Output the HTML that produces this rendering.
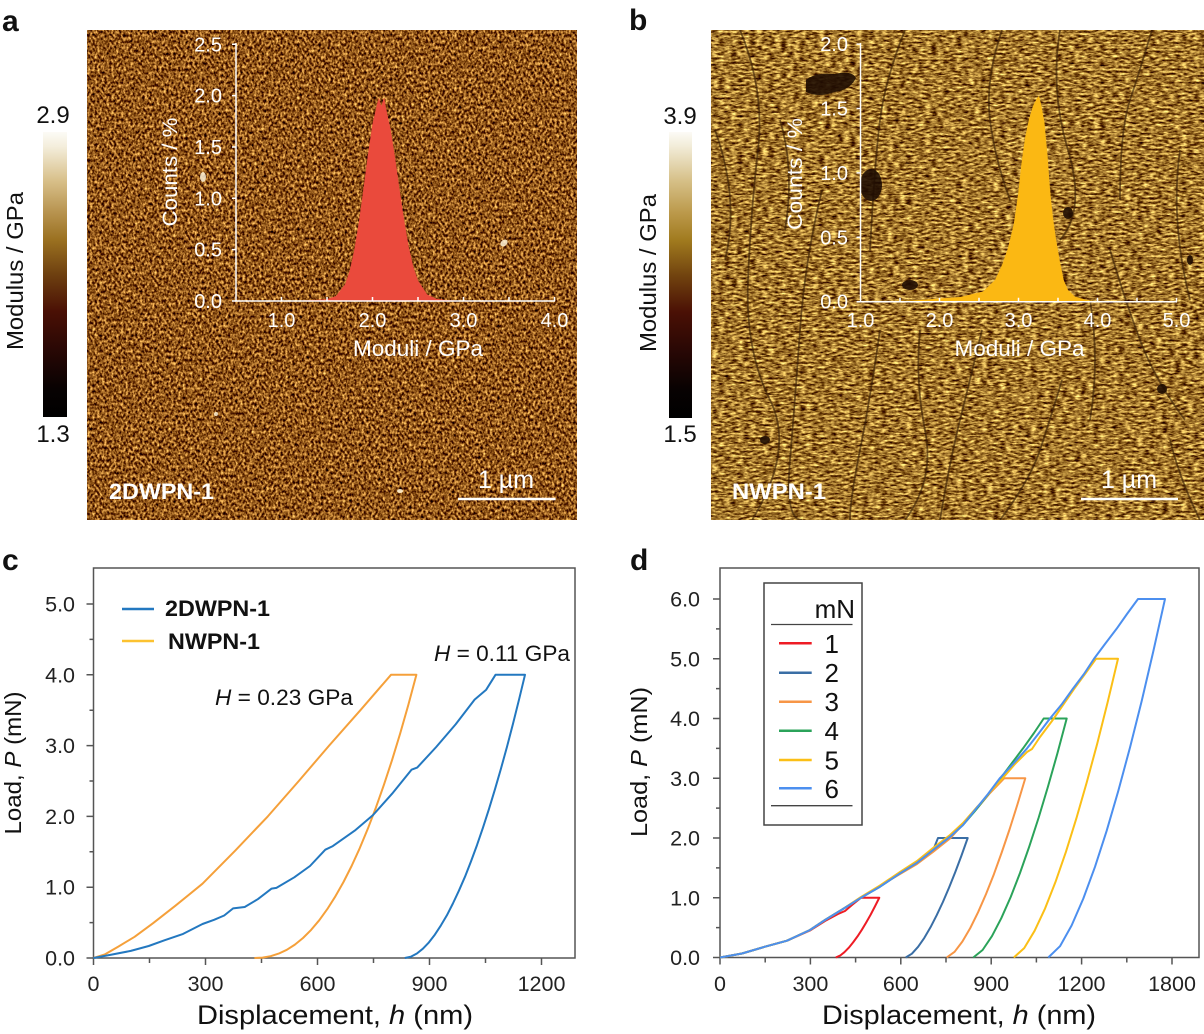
<!DOCTYPE html>
<html>
<head>
<meta charset="utf-8">
<style>
  html,body{margin:0;padding:0;background:#fff;}
  svg{display:block;}
</style>
</head>
<body>
<svg width="1204" height="1034" viewBox="0 0 1204 1034" xmlns="http://www.w3.org/2000/svg" font-family="'Liberation Sans', Arial, sans-serif">
<defs>
  <filter id="fa" x="0" y="0" width="1" height="1" color-interpolation-filters="sRGB">
    <feTurbulence type="fractalNoise" baseFrequency="0.42 0.32" numOctaves="2" seed="7"/>
    <feColorMatrix type="matrix" values="1.7 0 0 0 -0.29  1.55 0 0 0 -0.44  1.0 0 0 0 -0.40  0 0 0 0 1"/>
  </filter>
  <filter id="fb" x="0" y="0" width="1" height="1" color-interpolation-filters="sRGB">
    <feTurbulence type="fractalNoise" baseFrequency="0.16 0.45" numOctaves="3" seed="11"/>
    <feColorMatrix type="matrix" values="1.6 0 0 0 -0.17  1.6 0 0 0 -0.34  1.05 0 0 0 -0.35  0 0 0 0 1"/>
  </filter>
  <linearGradient id="cba" x1="0" y1="0" x2="0" y2="1">
    <stop offset="0" stop-color="#fcfbf6"/>
    <stop offset="0.05" stop-color="#f4eedc"/>
    <stop offset="0.17" stop-color="#d8c08a"/>
    <stop offset="0.28" stop-color="#b89450"/>
    <stop offset="0.38" stop-color="#9a7020"/>
    <stop offset="0.50" stop-color="#6e4010"/>
    <stop offset="0.63" stop-color="#4a1005"/>
    <stop offset="0.76" stop-color="#2a0805"/>
    <stop offset="0.90" stop-color="#080202"/>
    <stop offset="1" stop-color="#000"/>
  </linearGradient>
  <linearGradient id="cbb" x1="0" y1="0" x2="0" y2="1">
    <stop offset="0" stop-color="#fcfbf6"/>
    <stop offset="0.05" stop-color="#f2ecd8"/>
    <stop offset="0.17" stop-color="#d6c088"/>
    <stop offset="0.28" stop-color="#bc9a4c"/>
    <stop offset="0.38" stop-color="#a07a1e"/>
    <stop offset="0.50" stop-color="#72440f"/>
    <stop offset="0.63" stop-color="#4a1005"/>
    <stop offset="0.76" stop-color="#2a0805"/>
    <stop offset="0.90" stop-color="#080202"/>
    <stop offset="1" stop-color="#000"/>
  </linearGradient>
  <clipPath id="clipb"><rect x="711" y="30" width="493" height="490"/></clipPath>
</defs>

<rect width="1204" height="1034" fill="#fff"/>

<!-- ================= Panel a ================= -->
<text x="2" y="31" font-size="30" font-weight="bold" fill="#111">a</text>
<rect x="87" y="30" width="490" height="490" fill="#965c1c"/>
<rect x="87" y="30" width="490" height="490" filter="url(#fa)"/>
<g fill="#fff4d8" opacity="0.85">
  <ellipse cx="203" cy="177" rx="3" ry="5"/>
  <ellipse cx="504" cy="243" rx="4" ry="3" transform="rotate(-40 504 243)"/>
  <ellipse cx="400" cy="491" rx="3" ry="2"/>
  <ellipse cx="216" cy="414" rx="2" ry="2"/>
</g>
<!-- colorbar a -->
<rect x="43" y="132" width="24" height="285" fill="url(#cba)"/>
<text x="53" y="123" font-size="24" text-anchor="middle" fill="#111">2.9</text>
<text x="53" y="442" font-size="24" text-anchor="middle" fill="#111">1.3</text>
<text transform="translate(23,271) rotate(-90)" font-size="23" text-anchor="middle" fill="#111" textLength="158" lengthAdjust="spacingAndGlyphs">Modulus / GPa</text>

<!-- inset a histogram -->
<path d="M250 301 L281.5 300.7 L299.7 300.5 L317.9 299.8 L327 299.3 L336.1 296 L345.2 284.1 L349.8 270.4 L354.3 249.8 L358.9 221.9 L363.4 188.9 L368 154.1 L372.5 123.7 L377.1 103.8 L378.9 97.7 L380.5 104 L381.6 105.9 L383 100 L384.3 97.7 L386.2 109 L390.7 129.9 L395.3 159.1 L399.8 191.1 L404.4 221.6 L408.9 247.6 L413.5 267.4 L418 280.5 L427.1 294.4 L436.2 298.8 L445.3 300 L463.5 300.7 L480 301 Z" fill="#ea4a3c"/>
<g stroke="#fff" stroke-width="1.5" fill="none">
  <path d="M236 43V301H555"/>
  <path d="M236 44.25h-4M236 95.6h-4M236 147h-4M236 198.3h-4M236 249.6h-4M236 301h-4"/>
  <path d="M281.5 301v-4M327 301v-4M372.5 301v-4M418 301v-4M463.5 301v-4M509 301v-4M554.5 301v-4"/>
</g>
<g fill="#fff" font-size="20" text-anchor="end">
  <text x="222" y="51.3">2.5</text>
  <text x="222" y="102.6">2.0</text>
  <text x="222" y="154">1.5</text>
  <text x="222" y="205.3">1.0</text>
  <text x="222" y="256.6">0.5</text>
  <text x="222" y="308">0.0</text>
</g>
<g fill="#fff" font-size="20" text-anchor="middle">
  <text x="281.5" y="327">1.0</text>
  <text x="372.5" y="327">2.0</text>
  <text x="463.5" y="327">3.0</text>
  <text x="554.5" y="327">4.0</text>
</g>
<text x="418" y="356" font-size="22" fill="#fff" text-anchor="middle" textLength="130" lengthAdjust="spacingAndGlyphs">Moduli / GPa</text>
<text transform="translate(177,172) rotate(-90)" font-size="21" fill="#fff" text-anchor="middle" textLength="109" lengthAdjust="spacingAndGlyphs">Counts / %</text>
<!-- scale bar a -->
<text x="506" y="488" font-size="25" fill="#fff" text-anchor="middle">1 µm</text>
<line x1="458" y1="499" x2="555.6" y2="499" stroke="#fff" stroke-width="2.5"/>
<text x="109" y="499" font-size="22" font-weight="bold" fill="#fff" textLength="105" lengthAdjust="spacingAndGlyphs">2DWPN-1</text>

<!-- ================= Panel b ================= -->
<text x="629" y="30" font-size="30" font-weight="bold" fill="#111">b</text>
<rect x="711" y="30" width="493" height="490" fill="#b0883a"/>
<rect x="711" y="30" width="493" height="490" filter="url(#fb)"/>
<g clip-path="url(#clipb)" fill="none" stroke="#3a2006" stroke-width="1.8" opacity="0.65">
  <path d="M740 30 Q765 90 758 150 T748 280 T770 400 T752 520"/>
  <path d="M822 190 Q805 260 800 330 T790 460 T802 520"/>
  <path d="M905 30 Q885 80 880 120 T870 250"/>
  <path d="M1002 30 Q985 80 990 120 T1010 200"/>
  <path d="M1062 380 Q1050 420 1040 450 T1000 520"/>
  <path d="M1110 250 Q1125 300 1140 340 T1185 420"/>
  <path d="M982 330 Q970 380 960 420 T940 520"/>
  <path d="M1152 30 Q1140 70 1130 100 T1120 200"/>
  <path d="M880 330 Q870 400 860 450 T850 520"/>
  <path d="M1170 440 Q1180 480 1200 520"/>
  <path d="M715 130 Q740 200 725 260"/>
  <path d="M1060 30 Q1050 90 1068 150 T1060 240"/>
  <path d="M920 330 Q915 380 925 430 T905 520"/>
  <path d="M1090 300 Q1100 360 1090 420"/>
  <path d="M780 120 Q795 170 785 230"/>
  <path d="M1180 150 Q1170 220 1190 300"/>
</g>
<g fill="#1e0c02" opacity="0.9">
  <path d="M806 80 Q815 72 835 74 Q852 70 856 78 Q850 90 835 92 Q818 98 806 92 Z"/>
  <ellipse cx="871" cy="185" rx="11" ry="16"/>
  <ellipse cx="1068" cy="213" rx="5" ry="6"/>
  <ellipse cx="910" cy="285" rx="8" ry="5"/>
  <ellipse cx="765" cy="440" rx="5" ry="4"/>
  <ellipse cx="1162" cy="389" rx="5" ry="5"/>
  <ellipse cx="1015" cy="240" rx="4" ry="4"/>
  <ellipse cx="1190" cy="260" rx="3" ry="5"/>
</g>
<!-- colorbar b -->
<rect x="669" y="132" width="23" height="286" fill="url(#cbb)"/>
<text x="680" y="124" font-size="24" text-anchor="middle" fill="#111">3.9</text>
<text x="680" y="442" font-size="24" text-anchor="middle" fill="#111">1.5</text>
<text transform="translate(656,273) rotate(-90)" font-size="23" text-anchor="middle" fill="#111" textLength="158" lengthAdjust="spacingAndGlyphs">Modulus / GPa</text>

<!-- inset b histogram -->
<path d="M870 301.7 L880 301.5 L920 300 L960 297 L983 291.5 L995 280 L1002.3 264.4 L1008 248 L1013.8 223.7 L1018 195 L1021.5 162.7 L1025 138 L1029.1 118.6 L1033 106 L1036.8 98.3 L1039 96 L1041 104 L1044.4 122 L1047.5 155 L1050.2 191.9 L1053 218 L1056 239 L1060 262 L1063.6 279.7 L1068 290 L1075 296.6 L1086.6 300 L1100 301.7 Z" fill="#fbb813"/>
<g stroke="#fff" stroke-width="1.5" fill="none">
  <path d="M860.5 43V301.7H1177"/>
  <path d="M860.5 44.1h-4M860.5 108.5h-4M860.5 172.9h-4M860.5 237.3h-4M860.5 301.7h-4"/>
  <path d="M900 301.7v-4M939.5 301.7v-4M979 301.7v-4M1018.5 301.7v-4M1058 301.7v-4M1097.5 301.7v-4M1137 301.7v-4M1176.5 301.7v-4"/>
</g>
<g fill="#fff" font-size="20" text-anchor="end">
  <text x="848" y="51.1">2.0</text>
  <text x="848" y="115.5">1.5</text>
  <text x="848" y="179.9">1.0</text>
  <text x="848" y="244.3">0.5</text>
  <text x="848" y="308.7">0.0</text>
</g>
<g fill="#fff" font-size="20" text-anchor="middle">
  <text x="860.5" y="327">1.0</text>
  <text x="939.5" y="327">2.0</text>
  <text x="1018.5" y="327">3.0</text>
  <text x="1097.5" y="327">4.0</text>
  <text x="1176.5" y="327">5.0</text>
</g>
<text x="1019.5" y="356" font-size="22" fill="#fff" text-anchor="middle" textLength="130" lengthAdjust="spacingAndGlyphs">Moduli / GPa</text>
<text transform="translate(802,174) rotate(-90)" font-size="21" fill="#fff" text-anchor="middle" textLength="112" lengthAdjust="spacingAndGlyphs">Counts / %</text>
<!-- scale bar b -->
<text x="1129" y="488" font-size="25" fill="#fff" text-anchor="middle">1 µm</text>
<line x1="1081" y1="499" x2="1178" y2="499" stroke="#fff" stroke-width="2.5"/>
<text x="732" y="499" font-size="22" font-weight="bold" fill="#fff" textLength="94" lengthAdjust="spacingAndGlyphs">NWPN-1</text>

<!-- ================= Panel c ================= -->
<text x="2" y="570" font-size="30" font-weight="bold" fill="#111">c</text>
<rect x="93.5" y="568" width="481.5" height="390" fill="none" stroke="#555" stroke-width="1.5"/>
<g stroke="#555" stroke-width="1.5" fill="none">
  <path d="M93.5 958h-7M93.5 887.2h-7M93.5 816.4h-7M93.5 745.6h-7M93.5 674.8h-7M93.5 604h-7M93.5 922.6h-4M93.5 851.8h-4M93.5 781h-4M93.5 710.2h-4M93.5 639.4h-4"/>
  <path d="M93.5 958v7M149.5 958v5M205.5 958v7M261.5 958v5M317.5 958v7M373.5 958v5M429.5 958v7M485.5 958v5M541.5 958v7"/>
</g>
<g font-size="21.5" fill="#222" text-anchor="end">
  <text x="75" y="965.5">0.0</text>
  <text x="75" y="894.7">1.0</text>
  <text x="75" y="823.9">2.0</text>
  <text x="75" y="753.1">3.0</text>
  <text x="75" y="682.3">4.0</text>
  <text x="75" y="611.5">5.0</text>
</g>
<g font-size="21.5" fill="#222" text-anchor="middle">
  <text x="93.5" y="991">0</text>
  <text x="205.5" y="991">300</text>
  <text x="317.5" y="991">600</text>
  <text x="429.5" y="991">900</text>
  <text x="541.5" y="991">1200</text>
</g>
<text x="335" y="1024" font-size="27" fill="#111" text-anchor="middle" textLength="276" lengthAdjust="spacingAndGlyphs">Displacement, <tspan font-style="italic">h</tspan> (nm)</text>
<text transform="translate(21,763) rotate(-90)" font-size="23" fill="#111" text-anchor="middle" textLength="143" lengthAdjust="spacingAndGlyphs">Load, <tspan font-style="italic">P</tspan> (mN)</text>

<polyline fill="none" stroke="#f5a03a" stroke-width="2" stroke-linejoin="round" points="93.5,958 104.7,954.5 118.1,946.7 134.6,936.8 152.9,923.3 175.6,905.6 202.5,883.7 235.4,850.4 267.8,816.4 298.8,781 329.1,745.6 360.4,710.2 391,674.8 416.4,674.8 408.3,705 400.2,733.4 392.1,759.9 384,784.6 375.9,807.6 367.8,828.8 359.7,848.3 351.6,866 343.5,882 335.4,896.3 327.3,909.1 319.2,920.3 311.1,929.9 303,938 294.9,944.6 286.8,949.8 278.7,953.6 270.6,956.2 262.5,957.6 254.4,958"/>
<polyline fill="none" stroke="#2378c0" stroke-width="2" stroke-linejoin="round" points="93.5,958 112.2,954.5 130.8,950.9 148.7,946 164.4,940.3 183.1,933.9 202.5,924 214.1,919.8 224.2,915.5 233.1,908.4 244.7,907 257.8,899.2 271.6,888.6 276.4,887.9 294.3,877.3 310,866 325.3,849.7 332.8,846.1 354.8,830.6 373.1,815 392.1,793.7 411.5,769.7 417.2,767.6 436.2,747 455.6,724.4 474.6,699.6 486.2,689.7 495.5,674.8 525,674.8 519,699.7 513,723.7 507,746.7 501,768.5 495,789.2 489,808.9 483,827.6 477,845.1 471,861.4 465,876.7 458.9,890.7 452.9,903.5 446.9,915.3 440.9,925.4 434.9,934.6 428.9,942.4 422.9,948.7 416.9,953.5 410.8,956.7 404.8,958"/>

<!-- legend c -->
<line x1="122" y1="609" x2="154" y2="609" stroke="#2378c0" stroke-width="2.5"/>
<line x1="122" y1="641" x2="154" y2="641" stroke="#fcc230" stroke-width="2.5"/>
<text x="165" y="616" font-size="22" font-weight="bold" fill="#111" textLength="105" lengthAdjust="spacingAndGlyphs">2DWPN-1</text>
<text x="168" y="649" font-size="22" font-weight="bold" fill="#111" textLength="92" lengthAdjust="spacingAndGlyphs">NWPN-1</text>
<text x="434" y="661" font-size="22" fill="#111" textLength="136" lengthAdjust="spacingAndGlyphs"><tspan font-style="italic">H</tspan> = 0.11 GPa</text>
<text x="215" y="705" font-size="22" fill="#111" textLength="138" lengthAdjust="spacingAndGlyphs"><tspan font-style="italic">H</tspan> = 0.23 GPa</text>

<!-- ================= Panel d ================= -->
<text x="630" y="570" font-size="30" font-weight="bold" fill="#111">d</text>
<rect x="720" y="568" width="479" height="389.5" fill="none" stroke="#555" stroke-width="1.5"/>
<g stroke="#555" stroke-width="1.5" fill="none">
  <path d="M720 957.5h-7M720 897.75h-7M720 838h-7M720 778.25h-7M720 718.5h-7M720 658.75h-7M720 599h-7M720 927.6h-4M720 867.9h-4M720 808.1h-4M720 748.4h-4M720 688.6h-4M720 628.9h-4"/>
  <path d="M720 957.5v7M765.2 957.5v5M810.4 957.5v7M855.6 957.5v5M900.8 957.5v7M946 957.5v5M991.2 957.5v7M1036.4 957.5v5M1081.6 957.5v7M1126.8 957.5v5M1172 957.5v7"/>
</g>
<g font-size="21.5" fill="#222" text-anchor="end">
  <text x="700" y="965">0.0</text>
  <text x="700" y="905.25">1.0</text>
  <text x="700" y="845.5">2.0</text>
  <text x="700" y="785.75">3.0</text>
  <text x="700" y="726">4.0</text>
  <text x="700" y="666.25">5.0</text>
  <text x="700" y="606.5">6.0</text>
</g>
<g font-size="21.5" fill="#222" text-anchor="middle">
  <text x="720" y="991">0</text>
  <text x="810.4" y="991">300</text>
  <text x="900.8" y="991">600</text>
  <text x="991.2" y="991">900</text>
  <text x="1081.6" y="991">1200</text>
  <text x="1172" y="991">1800</text>
</g>
<text x="959" y="1024" font-size="27" fill="#111" text-anchor="middle" textLength="274" lengthAdjust="spacingAndGlyphs">Displacement, <tspan font-style="italic">h</tspan> (nm)</text>
<text transform="translate(647,762) rotate(-90)" font-size="23" fill="#111" text-anchor="middle" textLength="150" lengthAdjust="spacingAndGlyphs">Load, <tspan font-style="italic">P</tspan>  (mN)</text>

<g fill="none" stroke-width="2" stroke-linejoin="round">
  <polyline stroke="#ee1c25" points="720,957.5 742,953.5 765,946.7 787,940.7 810,930.5 825,921 838,914 845,911 852,905 861,897.75 879.3,897.75 874.9,906.5 870.6,914.75 866.2,922.5 861.9,929.7 857.5,936.4 853.1,942.4 848.8,947.7 844.4,952.2 840.1,955.6 835.7,957.5"/>
  <polyline stroke="#3a6ea5" points="720,957.5 742,953.5 765,946.7 787,940.7 810,930 825,920 843,909 861,897.7 880,886.5 900,873 917,862 933,850 935,845.5 938,838 967.7,838 961.5,855.5 955.3,872 949.1,887.5 942.9,902 936.7,915.2 930.5,927.3 924.3,937.9 918.1,946.8 911.9,953.7 905.7,957.5"/>
  <polyline stroke="#f79646" points="720,957.5 742,953.5 765,946.7 787,940.7 810,930 825,920 843,909 861,897.7 880,886 900,874 917,864 933,852 950.6,838 964,823 977.4,808 990,793 1004.2,778.25 1025.3,778.25 1017.4,804.5 1009.6,829.25 1001.7,852.5 993.9,874.2 986,894.1 978.1,912.2 970.3,928 962.4,941.5 954.6,951.8 946.7,957.5"/>
  <polyline stroke="#2ba35a" points="720,957.5 742,953.5 765,946.7 787,940.7 810,930 825,920 843,909 861,897.7 880,886.7 900,873.3 917,862.7 933,850 950,836.7 963,825 975,811 987,796 1000,779 1012,763 1023,748.4 1034,733 1043.7,718.5 1066.7,718.5 1057.4,753.4 1048,786.5 1038.7,817.5 1029.3,846.4 1020,873 1010.7,897 1001.3,918.2 992,936.1 982.6,950 973.3,957.5"/>
  <polyline stroke="#fbbf16" points="720,957.5 742,953.5 765,946.7 787,940.7 810,930 825,920 843,909 861,897 880,885.5 900,872 917,861 933,848 950,835 963,823 977,807 980,804 990,792 1002,779 1015,764 1027,752 1032,749 1040,737 1052,721 1063,705 1074,689 1085,674 1096,658.75 1118,658.75 1107.6,702.4 1097.2,743.7 1086.7,782.5 1076.3,818.6 1065.9,851.9 1055.5,881.9 1045.1,908.4 1034.6,930.8 1024.2,948.1 1013.8,957.5"/>
  <polyline stroke="#4c8fef" points="720,957.5 742,953.5 765,946.7 787,940.7 810,930 825,920 843,909 861,897.7 880,886.7 900,873.3 917,862.7 933,850 950,836.7 963,825 975,810 988,794 1000,778 1014,763 1027,748.4 1039,733 1050,718.5 1062,704 1073,688.6 1084,674 1094,658.75 1105,644 1116.5,628.9 1127,614 1138,599 1165,599 1153.3,651.4 1141.7,701 1130,747.5 1118.3,790.9 1106.7,830.7 1095,866.8 1083.3,898.6 1071.6,925.5 1060,946.2 1048.3,957.5"/>
</g>

<!-- legend d -->
<rect x="764" y="583" width="98" height="242" fill="#fff" stroke="#444" stroke-width="1.5"/>
<text x="855" y="618" font-size="26" fill="#111" text-anchor="end">mN</text>
<line x1="771" y1="624.5" x2="852.5" y2="624.5" stroke="#444" stroke-width="1.3"/>
<line x1="771" y1="805.7" x2="852.5" y2="805.7" stroke="#444" stroke-width="1.3"/>
<g stroke-width="2.5">
  <line x1="779" y1="643.3" x2="811.7" y2="643.3" stroke="#ee1c25"/>
  <line x1="779" y1="672.7" x2="811.7" y2="672.7" stroke="#3a6ea5"/>
  <line x1="779" y1="701.7" x2="811.7" y2="701.7" stroke="#f79646"/>
  <line x1="779" y1="730.7" x2="811.7" y2="730.7" stroke="#2ba35a"/>
  <line x1="779" y1="760" x2="811.7" y2="760" stroke="#fbbf16"/>
  <line x1="779" y1="788.3" x2="811.7" y2="788.3" stroke="#4c8fef"/>
</g>
<g font-size="26" fill="#111" text-anchor="middle">
  <text x="831.7" y="652.8">1</text>
  <text x="831.7" y="682.2">2</text>
  <text x="831.7" y="711.2">3</text>
  <text x="831.7" y="740.2">4</text>
  <text x="831.7" y="769.5">5</text>
  <text x="831.7" y="797.8">6</text>
</g>
</svg>
</body>
</html>
